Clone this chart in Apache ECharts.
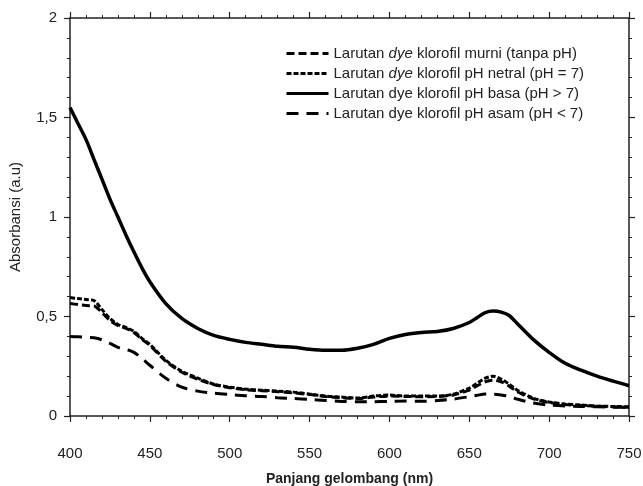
<!DOCTYPE html>
<html>
<head>
<meta charset="utf-8">
<script src="https://cdn.jsdelivr.net/npm/echarts@6/dist/echarts.min.js"></script>
<style>
  html, body { margin: 0; padding: 0; background: #fff; }
  #main { width: 643px; height: 486px; }
</style>
</head>
<body>
<div id="main"></div>
<script>
// wavelength (nm)
const wavelengths = [400,405,410,415,420,425,430,435,440,445,450,460,470,480,490,500,510,520,530,540,550,560,570,580,590,600,610,620,630,640,650,655,660,665,670,675,680,690,700,710,720,730,740,750];

const murni = [0.565,0.56,0.555,0.553,0.52,0.48,0.455,0.44,0.42,0.385,0.355,0.275,0.22,0.185,0.158,0.142,0.132,0.127,0.122,0.116,0.108,0.098,0.092,0.088,0.095,0.1,0.098,0.097,0.098,0.106,0.13,0.152,0.172,0.18,0.172,0.15,0.122,0.086,0.068,0.058,0.053,0.049,0.046,0.044];
const netral = [0.595,0.59,0.585,0.58,0.535,0.49,0.46,0.445,0.425,0.39,0.36,0.28,0.225,0.19,0.16,0.145,0.135,0.13,0.125,0.12,0.11,0.1,0.095,0.09,0.1,0.105,0.1,0.1,0.1,0.11,0.14,0.165,0.19,0.2,0.185,0.16,0.13,0.09,0.07,0.06,0.055,0.05,0.048,0.046];
const basa = [1.55,1.47,1.39,1.29,1.19,1.09,1.0,0.91,0.825,0.745,0.675,0.565,0.49,0.44,0.405,0.385,0.37,0.36,0.35,0.345,0.335,0.33,0.33,0.34,0.36,0.39,0.41,0.42,0.425,0.44,0.47,0.495,0.52,0.528,0.522,0.505,0.465,0.385,0.32,0.265,0.23,0.2,0.175,0.152];
const asam = [0.40,0.398,0.395,0.393,0.383,0.365,0.345,0.335,0.32,0.29,0.255,0.19,0.145,0.125,0.115,0.108,0.102,0.098,0.092,0.088,0.083,0.078,0.073,0.072,0.072,0.073,0.075,0.074,0.078,0.085,0.097,0.104,0.11,0.11,0.106,0.098,0.085,0.065,0.055,0.05,0.048,0.046,0.044,0.043];

const seriesNames = [
  'Larutan dye klorofil murni (tanpa pH)',
  'Larutan dye klorofil pH netral (pH = 7)',
  'Larutan dye klorofil pH basa (pH > 7)',
  'Larutan dye klorofil pH asam (pH < 7)'
];

function pairs(vals) {
  return wavelengths.map((w, i) => [w, vals[i]]);
}

const font = 'Liberation Sans, Arial, sans-serif';
const axisCol = '#222';

function frameAxis(extra) {
  return Object.assign({
    type: 'value',
    axisLine: { show: true, onZero: false, lineStyle: { color: axisCol, width: 1.5 } },
    axisTick: { show: true, inside: false, length: 6, lineStyle: { color: axisCol, width: 1.2 } },
    minorTick: { show: true, splitNumber: 5, length: 3, lineStyle: { color: axisCol, width: 1 } },
    splitLine: { show: false },
    minorSplitLine: { show: false }
  }, extra);
}

const chart = echarts.init(document.getElementById('main'));
chart.setOption({
  backgroundColor: '#fff',
  animation: false,
  grid: { left: 70, right: 14, top: 18, bottom: 70, outerBoundsMode: 'none' },
  legend: {
    orient: 'vertical',
    left: 280,
    top: 41,
    itemWidth: 42,
    itemHeight: 15,
    itemGap: 5,
    data: seriesNames,
    itemStyle: { opacity: 0 },
    lineStyle: { width: 3 },
    textStyle: { fontFamily: font, fontSize: 15, color: '#222',
      rich: { i: { fontFamily: font, fontSize: 15, color: '#222', fontStyle: 'italic' } } },
    formatter: function (name) {
      if (name.indexOf('murni') >= 0 || name.indexOf('netral') >= 0) {
        return name.replace('dye', '{i|dye}');
      }
      return name;
    }
  },
  xAxis: [
    frameAxis({
      position: 'bottom', min: 400, max: 750, interval: 50,
      name: 'Panjang gelombang (nm)', nameLocation: 'middle', nameGap: 56,
      nameTextStyle: { fontFamily: font, fontSize: 14, fontWeight: 'bold', color: '#222' },
      axisLabel: { margin: 30, fontFamily: font, fontSize: 15, color: '#222' }
    }),
    frameAxis({
      position: 'top', min: 400, max: 750, interval: 50,
      axisLabel: { show: false }
    })
  ],
  yAxis: [
    frameAxis({
      position: 'left', min: 0, max: 2, interval: 0.5,
      name: 'Absorbansi (a.u)', nameLocation: 'middle', nameGap: 47,
      nameTextStyle: { fontFamily: font, fontSize: 15, color: '#222' },
      axisLabel: { margin: 13, fontFamily: font, fontSize: 15, color: '#222',
        formatter: v => String(v).replace('.', ',') }
    }),
    frameAxis({
      position: 'right', min: 0, max: 2, interval: 0.5,
      axisLabel: { show: false }
    })
  ],
  series: [
    { name: seriesNames[0], type: 'line', data: pairs(murni), symbol: 'none', smooth: 0.3,
      lineStyle: { color: '#000', width: 3, type: [8, 4] }, itemStyle: { color: '#000' } },
    { name: seriesNames[1], type: 'line', data: pairs(netral), symbol: 'none', smooth: 0.3,
      lineStyle: { color: '#000', width: 3, type: [5, 2] }, itemStyle: { color: '#000' } },
    { name: seriesNames[2], type: 'line', data: pairs(basa), symbol: 'none', smooth: 0.3,
      lineStyle: { color: '#000', width: 3.5, type: 'solid' }, itemStyle: { color: '#000' } },
    { name: seriesNames[3], type: 'line', data: pairs(asam), symbol: 'none', smooth: 0.3,
      lineStyle: { color: '#000', width: 3, type: [12, 8] }, itemStyle: { color: '#000' } }
  ]
});
</script>
</body>
</html>
